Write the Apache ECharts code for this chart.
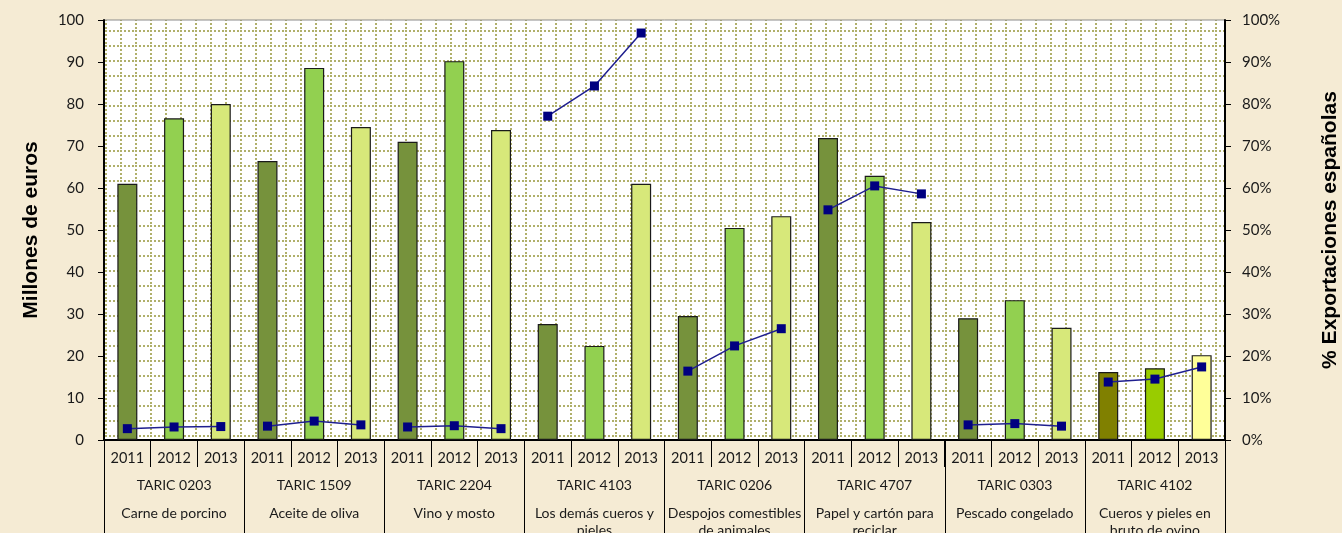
<!DOCTYPE html>
<html>
<head>
<meta charset="utf-8">
<script src="https://cdn.jsdelivr.net/npm/echarts@6/dist/echarts.min.js"></script>
<style>
html,body{margin:0;padding:0;background:#f5ebd4;}
#chart{width:1342px;height:533px;}
</style>
</head>
<body>
<div id="chart"></div>
<script>
const years = ['2011', '2012', '2013'];
const codes = ['TARIC 0203', 'TARIC 1509', 'TARIC 2204', 'TARIC 4103', 'TARIC 0206', 'TARIC 4707', 'TARIC 0303', 'TARIC 4102'];
const names = ['Carne de porcino', 'Aceite de oliva', 'Vino y mosto', 'Los demás cueros y\npieles', 'Despojos comestibles\nde animales', 'Papel y cartón para\nreciclar', 'Pescado congelado', 'Cueros y pieles en\nbruto de ovino'];
// Millones de euros
const value2011 = [61.0, 66.4, 71.0, 27.6, 29.5, 71.9, 29.0, 16.2];
const value2012 = [76.6, 88.6, 90.2, 22.4, 50.5, 62.9, 33.3, 17.1];
const value2013 = [80.0, 74.5, 73.8, 61.0, 53.3, 51.9, 26.7, 20.2];
// % Exportaciones españolas
const pct2011 = [2.7, 3.3, 3.1, 77.1, 16.4, 54.8, 3.6, 13.8];
const pct2012 = [3.1, 4.5, 3.4, 84.3, 22.4, 60.5, 3.9, 14.5];
const pct2013 = [3.2, 3.6, 2.7, 96.9, 26.5, 58.6, 3.3, 17.4];
const leftTicks = [0, 10, 20, 30, 40, 50, 60, 70, 80, 90, 100];

const yearColors = ['#76923c', '#92d050', '#d7e87a'];
const lastGroupColors = ['#808000', '#99cc00', '#ffff99'];

const valuesByYear = [value2011, value2012, value2013];
const pctByYear = [pct2011, pct2012, pct2013];

const xCats = [];
const barData = [];
codes.forEach((c, g) => {
  years.forEach((y, k) => {
    xCats.push(y);
    const col = g === codes.length - 1 ? lastGroupColors[k] : yearColors[k];
    barData.push({ value: valuesByYear[k][g], itemStyle: { color: col } });
  });
});

const lineSeries = codes.map((c, g) => {
  const d = xCats.map(() => '-');
  years.forEach((y, k) => { d[g * 3 + k] = pctByYear[k][g]; });
  return {
    type: 'line', xAxisIndex: 0, yAxisIndex: 1, data: d,
    symbol: 'rect', symbolSize: 9, connectNulls: false,
    lineStyle: { color: '#1f1f8f', width: 1.5 },
    itemStyle: { color: '#000080' },
    z: 5
  };
});

function makePattern() {
  const c = document.createElement('canvas');
  c.width = 15; c.height = 15;
  const g = c.getContext('2d');
  g.fillStyle = '#ffffff';
  g.fillRect(0, 0, 15, 15);
  g.fillStyle = '#b0b06a';
  for (let i = 0; i < 15; i += 4) {
    g.fillRect(i, 0, 2, 2);
    g.fillRect(0, i, 2, 2);
  }
  return c;
}

const font = 'Lato, "Open Sans", sans-serif';
const chart = echarts.init(document.getElementById('chart'), null, { renderer: 'canvas' });
chart.setOption({
  animation: false,
  backgroundColor: '#f5ebd4',
  grid: {
    left: 104, right: 117, top: 20, bottom: 93,
    outerBoundsMode: 'none',
    containLabel: false,
    show: true,
    backgroundColor: { image: makePattern(), repeat: 'repeat' },
    borderColor: '#8c8c8c', borderWidth: 1
  },
  xAxis: [
    {
      type: 'category', data: xCats, position: 'bottom',
      axisLine: { show: true, lineStyle: { color: '#000', width: 2 } },
      axisTick: { show: true, interval: 0, length: 27, lineStyle: { color: '#000', width: 1 } },
      axisLabel: { interval: 0, margin: 10, fontFamily: font, fontSize: 14.5, color: '#1a1a1a', lineHeight: 16 },
      splitLine: { show: false }
    },
    {
      type: 'category', data: codes, position: 'bottom',
      axisLine: { show: false },
      axisTick: { show: true, interval: 0, length: 100, lineStyle: { color: '#000', width: 1 } },
      axisLabel: {
        interval: 0, margin: 36, fontFamily: font, color: '#1a1a1a',
        formatter: function (v, i) {
          const parts = names[i].split('\n').map(s => '{b|' + s + '}');
          return '{a|' + v + '}\n{s|}\n' + parts.join('\n');
        },
        rich: {
          a: { fontFamily: font, fontSize: 14, lineHeight: 18, color: '#1a1a1a' },
          s: { lineHeight: 11, fontSize: 1 },
          b: { fontFamily: font, fontSize: 14, lineHeight: 17, color: '#1a1a1a' }
        }
      },
      splitLine: { show: false }
    }
  ],
  yAxis: [
    {
      type: 'value', min: leftTicks[0], max: leftTicks[leftTicks.length - 1], interval: 10, position: 'left',
      name: 'Millones de euros', nameLocation: 'middle', nameGap: 62, nameRotate: 90,
      nameTextStyle: { fontFamily: 'Liberation Sans, Arial, sans-serif', fontWeight: 'bold', fontSize: 21, color: '#000' },
      axisLine: { show: true, lineStyle: { color: '#000', width: 2 } },
      axisTick: { show: true, length: 6, lineStyle: { color: '#000', width: 1 } },
      axisLabel: { margin: 20, fontFamily: font, fontSize: 15, color: '#1a1a1a' },
      splitLine: { show: false }
    },
    {
      type: 'value', min: 0, max: 100, interval: 10, position: 'right',
      name: '% Exportaciones españolas', nameLocation: 'middle', nameGap: 95, nameRotate: 90,
      nameTextStyle: { fontFamily: 'Liberation Sans, Arial, sans-serif', fontWeight: 'bold', fontSize: 21, color: '#000' },
      axisLine: { show: true, lineStyle: { color: '#000', width: 2 } },
      axisTick: { show: true, length: 6, lineStyle: { color: '#000', width: 1 } },
      axisLabel: { margin: 17, fontFamily: font, fontSize: 15, color: '#1a1a1a', formatter: '{value}%' },
      splitLine: { show: false }
    }
  ],
  series: [
    {
      type: 'bar', xAxisIndex: 0, yAxisIndex: 0, data: barData,
      barWidth: 20,
      itemStyle: { borderColor: '#1a1a1a', borderWidth: 1.2 },
      z: 2
    }
  ].concat(lineSeries)
});
</script>
</body>
</html>
